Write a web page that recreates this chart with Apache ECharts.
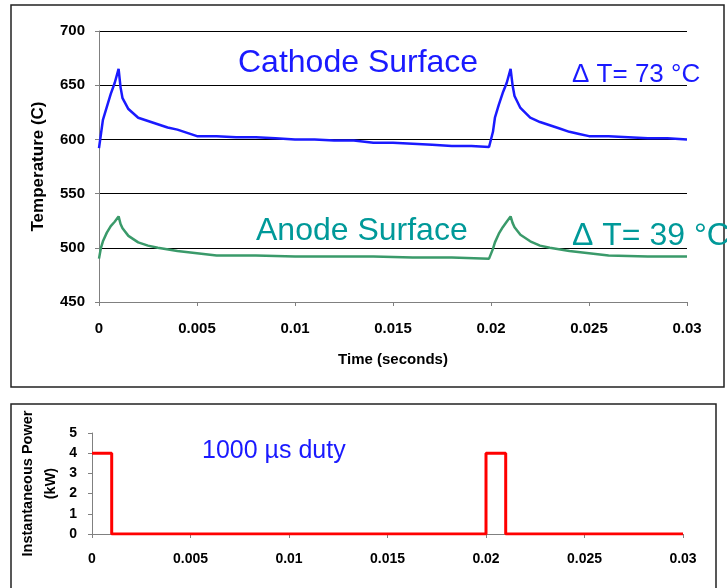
<!DOCTYPE html>
<html>
<head>
<meta charset="utf-8">
<script src="https://cdn.jsdelivr.net/npm/echarts@6/dist/echarts.min.js"></script>
<style>
  html, body { margin: 0; padding: 0; background: #fff; }
  #chart { width: 727px; height: 588px; }
</style>
</head>
<body>
<div id="chart"></div>
<script>
// 数据
const cathodeTime = [0, 0.0001, 0.0002, 0.0004, 0.0006, 0.0008, 0.001, 0.0011, 0.0012, 0.0015, 0.002, 0.0025, 0.003, 0.0035, 0.004, 0.0045, 0.005, 0.006, 0.007, 0.008, 0.009, 0.01, 0.011, 0.012, 0.013, 0.014, 0.015, 0.016, 0.017, 0.018, 0.019, 0.0199,
  0.02, 0.0201, 0.0202, 0.0204, 0.0206, 0.0208, 0.021, 0.0211, 0.0212, 0.0215, 0.022, 0.0225, 0.023, 0.0235, 0.024, 0.0245, 0.025, 0.026, 0.027, 0.028, 0.029, 0.03];
const cathodeTemp = [592, 605, 618, 630, 642, 652, 665, 648, 638, 628, 620, 617, 614, 611, 609, 606, 603, 603, 602, 602, 601, 600, 600, 599, 599, 597, 597, 596, 595, 594, 594, 593,
  593, 607, 620, 632, 643, 652, 665, 650, 640, 629, 620, 616, 613, 610, 607, 605, 603, 603, 602, 601, 601, 600];

const anodeTime = [0, 0.0001, 0.0002, 0.0004, 0.0006, 0.0008, 0.001, 0.0011, 0.0012, 0.0015, 0.002, 0.0025, 0.003, 0.004, 0.005, 0.006, 0.008, 0.01, 0.012, 0.014, 0.016, 0.018, 0.0199,
  0.02, 0.0201, 0.0202, 0.0204, 0.0206, 0.0208, 0.021, 0.0211, 0.0212, 0.0215, 0.022, 0.0225, 0.023, 0.024, 0.025, 0.026, 0.028, 0.03];
const anodeTemp = [490, 500, 506, 514, 520, 524, 529, 522, 518, 511, 505, 502, 500, 497, 495, 493, 493, 492, 492, 492, 491, 491, 490,
  490, 499, 505, 513, 519, 524, 529, 523, 519, 512, 506, 502, 500, 497, 495, 493, 492, 492];

const powerTime = [0, 0.001, 0.001, 0.02, 0.02, 0.021, 0.021, 0.03];
const powerKW = [4, 4, 0, 0, 4, 4, 0, 0];

const timeTicks = [0, 0.005, 0.01, 0.015, 0.02, 0.025, 0.03];

const pair = (xs, ys) => xs.map((x, i) => [x, ys[i]]);

const chart = echarts.init(document.getElementById("chart"));
const font = "Liberation Sans, Arial, sans-serif";
const tickFmt = (v) => String(parseFloat(v.toFixed(3)));

const option = {
  animation: false,
  backgroundColor: "#fff",
  grid: [
    { left: 99, right: 40, top: 31, height: 271 },
    { left: 92, right: 44, top: 433, height: 101 },
  ],
  xAxis: [
    {
      gridIndex: 0, type: "value", min: timeTicks[0], max: timeTicks[6], interval: 0.005,
      name: "Time (seconds)", nameLocation: "middle", nameGap: 50,
      nameTextStyle: { fontFamily: font, fontWeight: "bold", fontSize: 15, color: "#000" },
      axisLine: { lineStyle: { color: "#808080" } },
      axisTick: { show: true, length: 4, lineStyle: { color: "#808080" } },
      axisLabel: { fontFamily: font, fontWeight: "bold", fontSize: 15, color: "#000", margin: 19, formatter: tickFmt },
      splitLine: { show: false },
    },
    {
      gridIndex: 1, type: "value", min: timeTicks[0], max: timeTicks[6], interval: 0.005,
      axisLine: { lineStyle: { color: "#808080" } },
      axisTick: { show: true, length: 4, lineStyle: { color: "#808080" } },
      axisLabel: { fontFamily: font, fontWeight: "bold", fontSize: 14, color: "#000", margin: 18, formatter: tickFmt },
      splitLine: { show: false },
    },
  ],
  yAxis: [
    {
      gridIndex: 0, type: "value", min: 450, max: 700, interval: 50,
      name: "Temperature (C)", nameLocation: "middle", nameGap: 52,
      nameTextStyle: { fontFamily: font, fontWeight: "bold", fontSize: 17, color: "#000" },
      axisLine: { show: true, lineStyle: { color: "#808080" } },
      axisTick: { show: true, length: 4, lineStyle: { color: "#808080" } },
      axisLabel: { fontFamily: font, fontWeight: "bold", fontSize: 15, color: "#000", margin: 14 },
      splitLine: { show: true, lineStyle: { color: "#000", width: 1 } },
    },
    {
      gridIndex: 1, type: "value", min: 0, max: 5, interval: 1,
      name: "Instantaneous Power\n(kW)", nameLocation: "middle", nameGap: 30,
      nameMoveOverlap: false,
      nameTextStyle: { fontFamily: font, fontWeight: "bold", fontSize: 14.5, color: "#000", lineHeight: 23 },
      axisLine: { show: true, lineStyle: { color: "#808080" } },
      axisTick: { show: true, length: 4, lineStyle: { color: "#808080" } },
      axisLabel: { fontFamily: font, fontWeight: "bold", fontSize: 14, color: "#000", margin: 15 },
      splitLine: { show: false },
    },
  ],
  graphic: [
    // 外框
    { type: "rect", shape: { x: 11, y: 5, width: 713, height: 382 }, style: { fill: null, stroke: "#222", lineWidth: 1.5 }, silent: true },
    { type: "rect", shape: { x: 11, y: 404, width: 705, height: 200 }, style: { fill: null, stroke: "#222", lineWidth: 1.5 }, silent: true },
    { type: "text", left: 238, top: 47, style: { text: "Cathode Surface", font: "32px Liberation Sans, Arial", fill: "#1a1aff" } },
    { type: "text", left: 572, top: 62, style: { text: "Δ T= 73 °C", font: "26px Liberation Sans, Arial", fill: "#1a1aff" } },
    { type: "text", left: 256, top: 215, style: { text: "Anode Surface", font: "32px Liberation Sans, Arial", fill: "#009999" } },
    { type: "text", left: 572, top: 220, style: { text: "Δ T= 39 °C", font: "32px Liberation Sans, Arial", fill: "#009999" } },
    { type: "text", left: 202, top: 439, style: { text: "1000 µs duty", font: "25px Liberation Sans, Arial", fill: "#1a1aff" } },
  ],
  series: [
    {
      name: "Cathode", type: "line", xAxisIndex: 0, yAxisIndex: 0,
      data: pair(cathodeTime, cathodeTemp), showSymbol: false,
      lineStyle: { color: "#1a1aff", width: 2.5 },
    },
    {
      name: "Anode", type: "line", xAxisIndex: 0, yAxisIndex: 0,
      data: pair(anodeTime, anodeTemp), showSymbol: false,
      lineStyle: { color: "#3a9a6a", width: 2.5 },
    },
    {
      name: "Power", type: "line", xAxisIndex: 1, yAxisIndex: 1,
      data: pair(powerTime, powerKW), showSymbol: false,
      lineStyle: { color: "#ff0000", width: 3 },
    },
  ],
};
chart.setOption(option);
window.addEventListener("resize", function () {
  chart.resize();
});
</script>
</body>
</html>
